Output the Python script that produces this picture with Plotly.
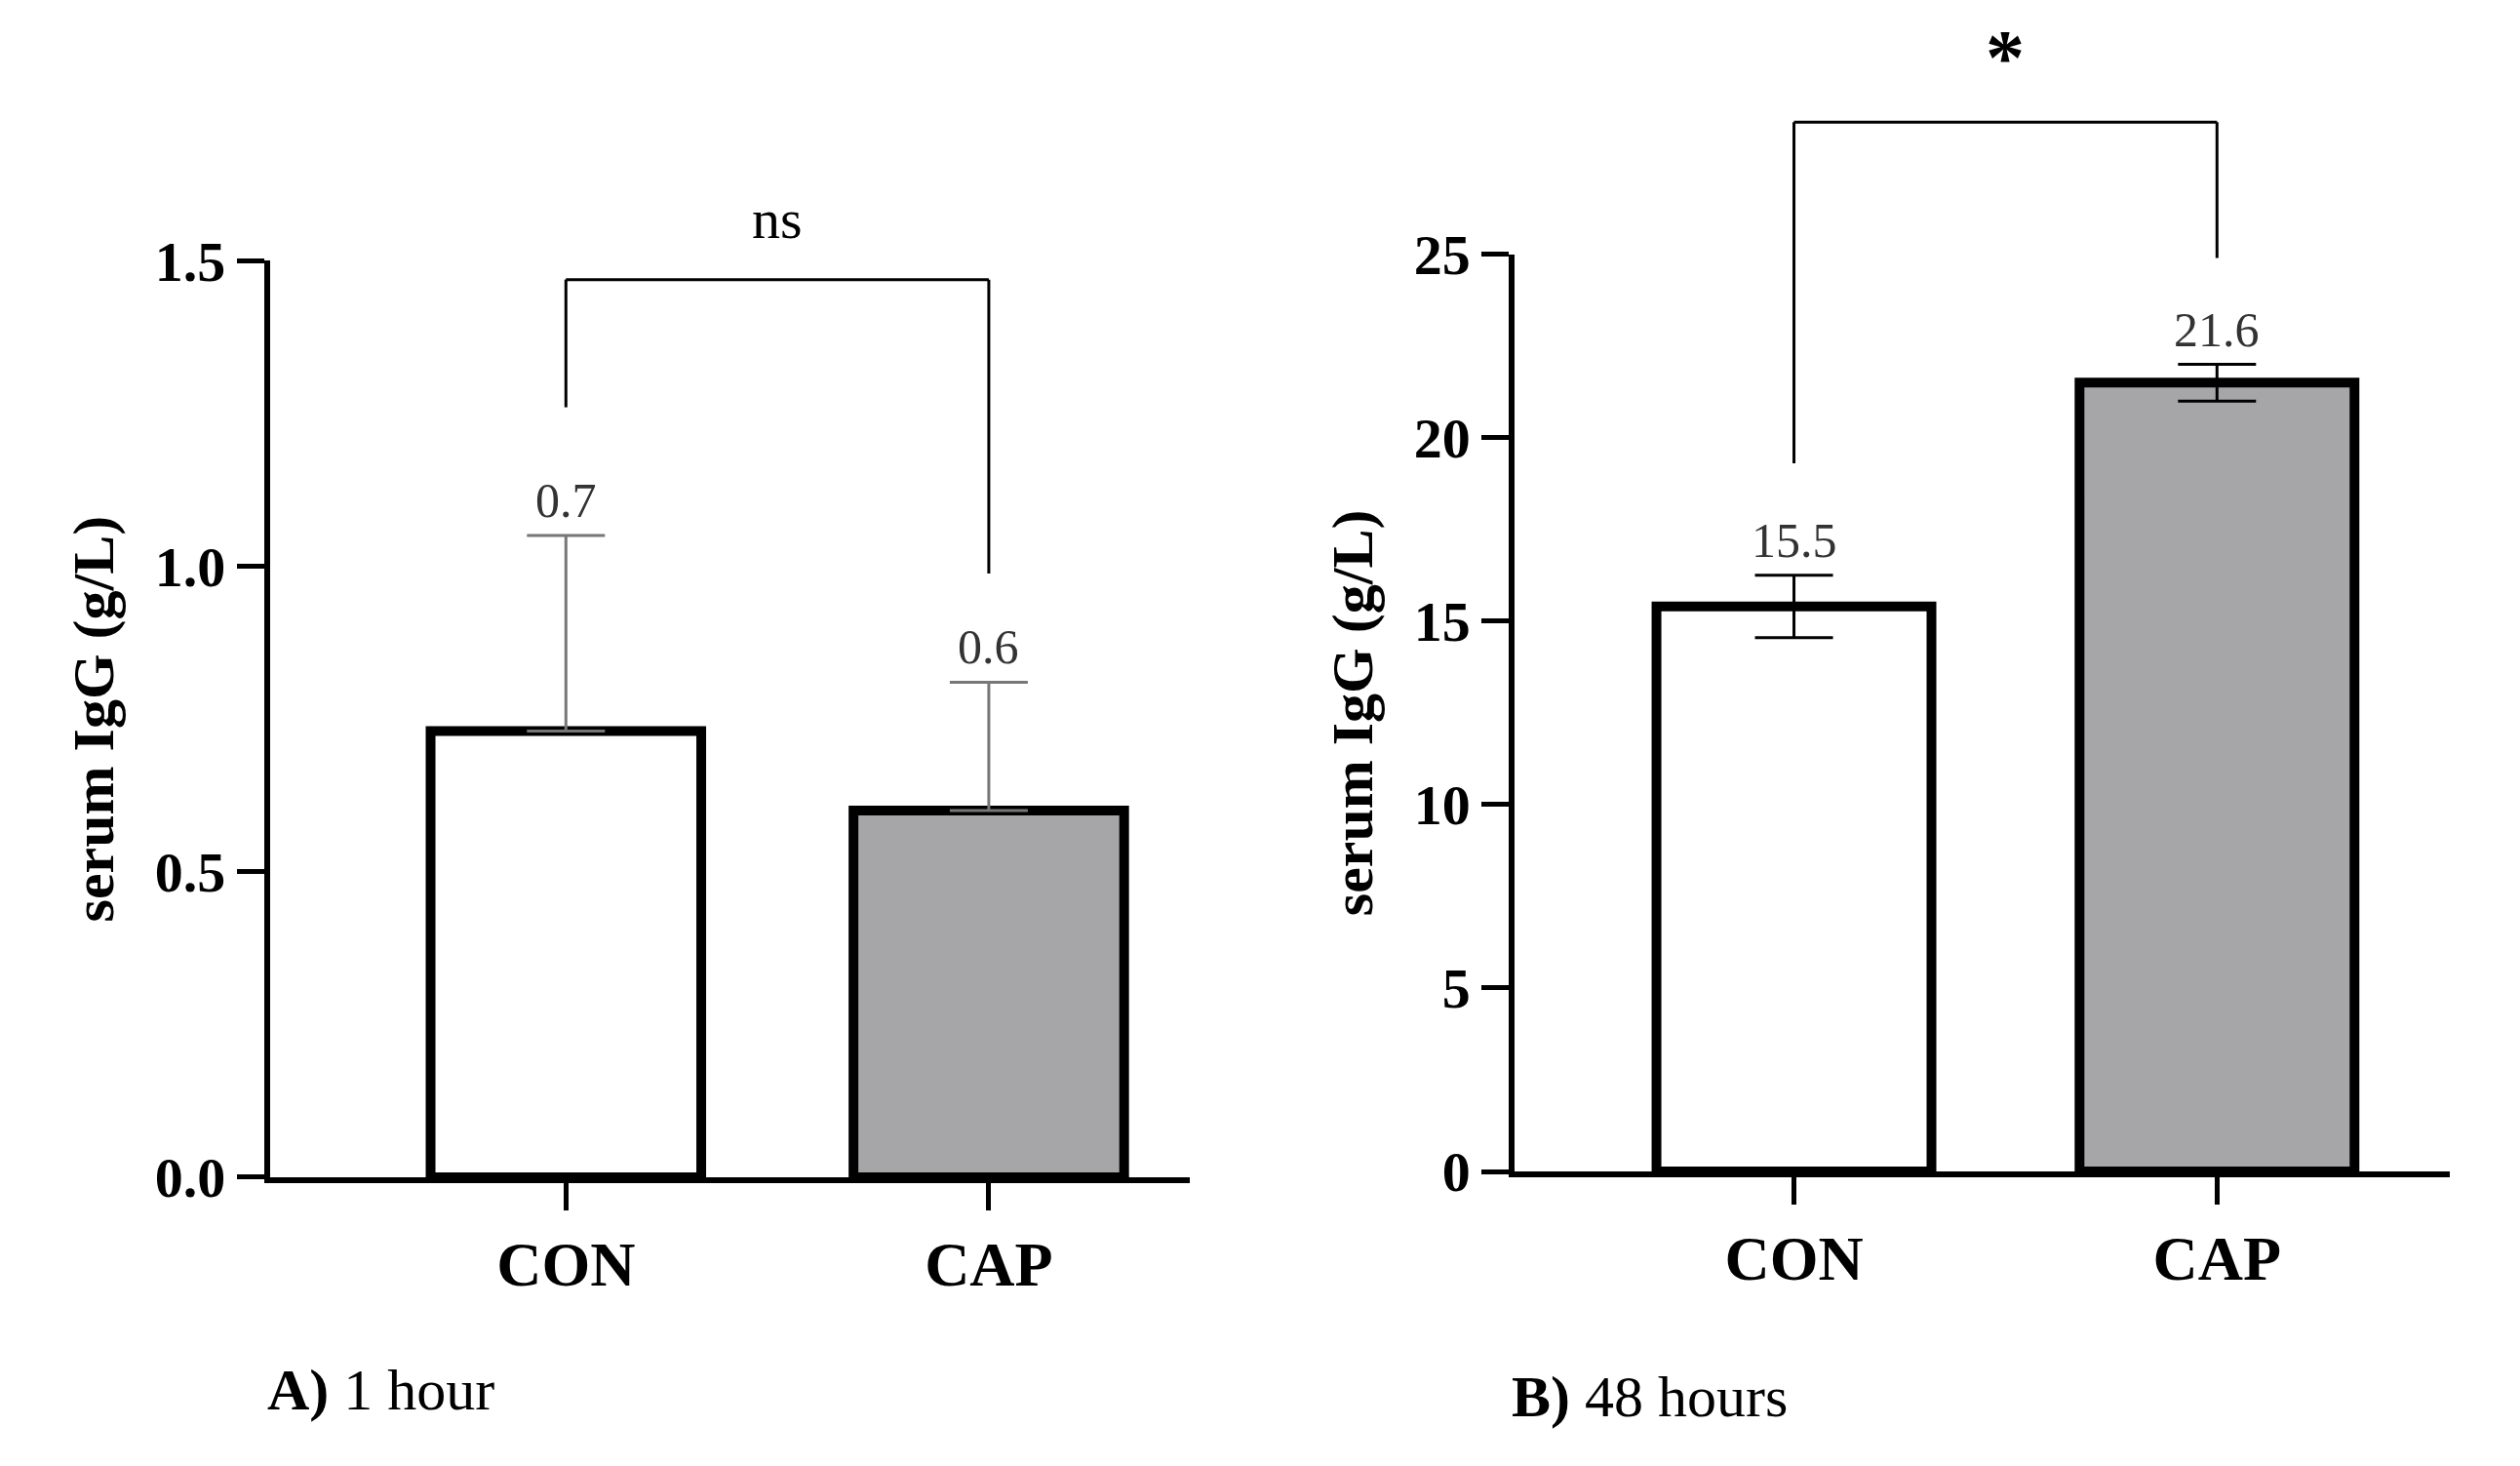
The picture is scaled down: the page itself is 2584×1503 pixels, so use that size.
import plotly.graph_objects as go

groups = ["CON", "CAP"]
h1_mean = [0.73, 0.60]
h1_err = [0.32, 0.21]
h1_labels = ["0.7", "0.6"]
h48_mean = [15.4, 21.5]
h48_err = [0.85, 0.5]
h48_labels = ["15.5", "21.6"]
fills = ["white", "#a6a6a8"]

F = "Liberation Serif"
D1 = [0.1885, 0.842]
D2 = [0.1926, 0.8465]
def p1(v): return D1[0] + v / 1.5 * (D1[1] - D1[0])
def p2(v): return D2[0] + v / 25 * (D2[1] - D2[0])

fig = go.Figure()
xs = [0, 1]
fig.add_trace(go.Bar(x=xs, y=h1_mean, width=0.64, marker=dict(color=fills, line=dict(color="black", width=10)),
                     error_y=dict(type="data", array=h1_err, arrayminus=[0, 0], color="#777777", thickness=3, width=40),
                     xaxis="x", yaxis="y", showlegend=False))
fig.add_trace(go.Bar(x=xs, y=h48_mean, width=0.65, marker=dict(color=fills, line=dict(color="black", width=10)),
                     error_y=dict(type="data", array=h48_err, color="black", thickness=3, width=40),
                     xaxis="x2", yaxis="y2", showlegend=False))

for i in range(2):
    fig.add_annotation(x=xs[i], y=h1_mean[i] + h1_err[i], text=h1_labels[i], xref="x", yref="y", yanchor="bottom",
                       yshift=6, showarrow=False, font=dict(family=F, size=50, color="#333"))
    fig.add_annotation(x=xs[i], y=h48_mean[i] + h48_err[i], text=h48_labels[i], xref="x2", yref="y2", yanchor="bottom",
                       yshift=6, showarrow=False, font=dict(family=F, size=50, color="#333"))

# brackets
for (xa, yv) in [("x", [(0, 1.26, 0, 1.469), (0, 1.469, 1, 1.469), (1, 1.469, 1, 0.988)])]:
    for a, b, c, d in yv:
        fig.add_shape(type="line", x0=a, x1=c, y0=p1(b), y1=p1(d), xref="x", yref="paper", line=dict(color="black", width=3))
for a, b, c, d in [(0, 19.3, 0, 28.6), (0, 28.6, 1, 28.6), (1, 28.6, 1, 24.9)]:
    fig.add_shape(type="line", x0=a, x1=c, y0=p2(b), y1=p2(d), xref="x2", yref="paper", line=dict(color="black", width=3))
fig.add_annotation(x=0.5, y=p1(1.469), xref="x", yref="paper", text="ns", showarrow=False, yanchor="bottom", yshift=28,
                   font=dict(family=F, size=58, color="black"))
fig.add_annotation(x=0.5, y=p2(28.6), xref="x2", yref="paper", text="<b>*</b>", showarrow=False, yanchor="bottom", yshift=20,
                   font=dict(family=F, size=80, color="black"))

ax_common = dict(showgrid=False, zeroline=False, showline=True, linecolor="black", linewidth=6,
                 ticks="outside", tickwidth=5, tickcolor="black", ticklen=28)
fig.update_layout(
    width=2584, height=1503, margin=dict(l=0, r=0, t=0, b=0),
    paper_bgcolor="white", plot_bgcolor="white",
    xaxis=dict(domain=[0.104, 0.469], range=[-0.70, 1.475], tickvals=xs, ticktext=["<b>%s</b>" % g for g in groups],
               tickfont=dict(family=F, size=64, color="black"), anchor="y", **ax_common),
    yaxis=dict(domain=D1, range=[0, 1.5], tickvals=[0, 0.5, 1.0, 1.5], ticktext=["<b>0.0</b>", "<b>0.5</b>", "<b>1.0</b>", "<b>1.5</b>"],
               tickfont=dict(family=F, size=58, color="black"), anchor="x",
               title=dict(text="<b>serum IgG (g/L)</b>", font=dict(family=F, size=60, color="black"), standoff=25), **ax_common),
    xaxis2=dict(domain=[0.598, 0.969], range=[-0.66, 1.55], tickvals=xs, ticktext=["<b>%s</b>" % g for g in groups],
                tickfont=dict(family=F, size=64, color="black"), anchor="y2", **ax_common),
    yaxis2=dict(domain=D2, range=[0, 25], tickvals=[0, 5, 10, 15, 20, 25], ticktext=["<b>%d</b>" % v for v in [0, 5, 10, 15, 20, 25]],
                tickfont=dict(family=F, size=58, color="black"), anchor="x2",
                title=dict(text="<b>serum IgG (g/L)</b>", font=dict(family=F, size=60, color="black"), standoff=25), **ax_common),
)
fig.add_annotation(x=0.102, y=0.037, xref="paper", yref="paper", xanchor="left", yanchor="middle", showarrow=False,
                   text="<b>A)</b> 1 hour", font=dict(family=F, size=60, color="black"))
fig.add_annotation(x=0.596, y=0.032, xref="paper", yref="paper", xanchor="left", yanchor="middle", showarrow=False,
                   text="<b>B)</b> 48 hours", font=dict(family=F, size=60, color="black"))
fig.write_html("out.html")
